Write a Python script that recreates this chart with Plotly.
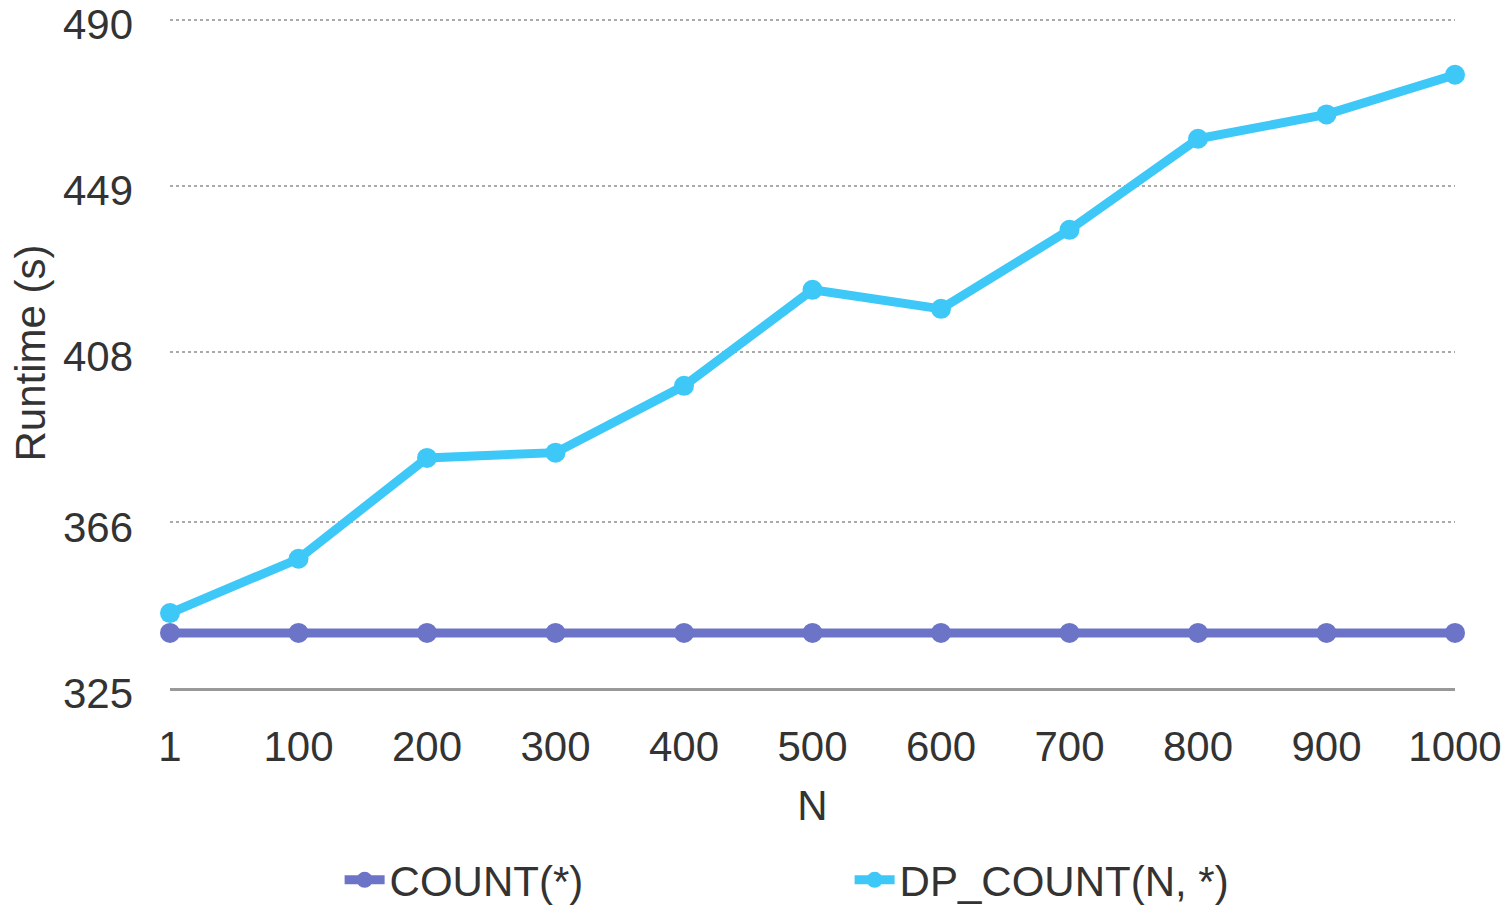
import plotly.graph_objects as go

# Benchmark results: runtime in seconds for each N
n_labels = ["1", "100", "200", "300", "400", "500", "600", "700", "800", "900", "1000"]
count_runtime = [338.6, 338.6, 338.6, 338.6, 338.6, 338.6, 338.6, 338.6, 338.6, 338.6, 338.6]
dp_count_runtime = [343.5, 356.9, 381.8, 383.1, 399.6, 423.3, 418.6, 438.1, 460.6, 466.6, 476.4]
y_ticks = [325, 366, 408, 449, 490]

x_pos = list(range(len(n_labels)))
font_family = "Liberation Sans, Arial, Helvetica, sans-serif"
text_color = "#333333"

fig = go.Figure()
fig.add_trace(go.Scatter(
    x=x_pos, y=count_runtime, name="COUNT(*)", mode="lines+markers",
    line=dict(color="#6c74c8", width=9),
    marker=dict(color="#6c74c8", size=20),
    cliponaxis=False,
))
fig.add_trace(go.Scatter(
    x=x_pos, y=dp_count_runtime, name="DP_COUNT(N, *)", mode="lines+markers",
    line=dict(color="#3ec8f8", width=9),
    marker=dict(color="#3ec8f8", size=20),
    cliponaxis=False,
))

fig.update_layout(
    width=1512, height=914,
    margin=dict(l=170, r=57, t=18, b=226),
    paper_bgcolor="white", plot_bgcolor="white",
    font=dict(family=font_family, size=42, color=text_color),
    showlegend=True,
    legend=dict(
        orientation="h", x=0.132, xanchor="left",
        yref="container", y=0.0, yanchor="bottom",
        font=dict(size=42, color=text_color), entrywidth=455,
        itemwidth=40,
    ),
    xaxis=dict(
        range=[0, 10], tickvals=x_pos, ticktext=n_labels,
        showgrid=False, zeroline=False, automargin=False,
        showline=True, linecolor="#999999", linewidth=2.5,
        ticks="", ticklabelstandoff=20,
        title=dict(text="N", standoff=22, font=dict(size=42)),
    ),
    yaxis=dict(
        range=[325, 490.4], tickvals=y_ticks,
        showgrid=True, gridcolor="#aaaaaa", gridwidth=1.5, griddash="dot",
        zeroline=False, showline=False, ticks="", ticklabelstandoff=36,
        ticklabelshift=5, ticklabeloverflow="allow", automargin=False,
        title=dict(text="Runtime (s)", standoff=4, font=dict(size=42)),
    ),
)

fig.write_html("out.html")
